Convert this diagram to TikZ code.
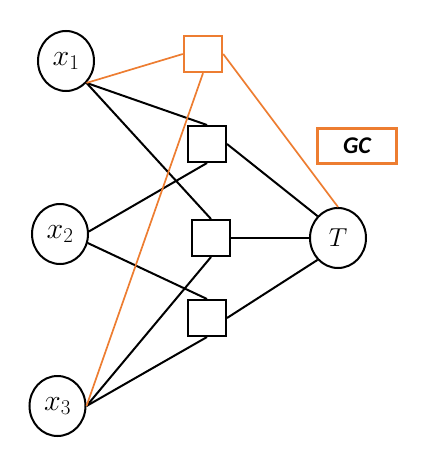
\RequirePackage{fix-cm}
\documentclass[tikz,border=0pt]{standalone}
\usepackage{fontspec}
\newfontfamily\gcfont{Carlito}
\usetikzlibrary{shapes.geometric}
\definecolor{gcorange}{HTML}{ED7D31}
\begin{document}
\begin{tikzpicture}[x=1pt,y=-1pt,
  var/.style={ellipse, draw, line width=2pt, minimum width=56pt, minimum height=60pt, inner sep=0pt, font=\fontsize{30}{34}\selectfont},
  fac/.style={rectangle, draw, line width=2pt, minimum width=38pt, minimum height=36pt, inner sep=0pt},
  gfac/.style={fac, draw=gcorange, line width=2.4pt},
  edge/.style={line width=2pt},
  gedge/.style={draw=gcorange, line width=1.7pt}]
\useasboundingbox (0,0) rectangle (428,458);
\node[var] (x1) at (66,61) {$x_1$};
\node[var] (x2) at (60,234) {$x_2$};
\node[var] (x3) at (57.5,406) {$x_3$};
\node[var, font=\fontsize{26}{30}\selectfont] (t) at (338,238) {$T$};
\node[gfac] (gf) at (203,54) {};
\node[fac] (s1) at (207,144) {};
\node[fac] (s2) at (211,238) {};
\node[fac] (s3) at (207,318) {};
\node[draw=gcorange, line width=2.4pt, minimum width=79pt, minimum height=35pt, inner sep=0pt, font=\gcfont\bfseries\itshape\fontsize{24}{28}\selectfont] (gc) at (357,146) {GC};
\draw[edge] (x1.south east) -- (s1.north);
\draw[edge] (x1.south east) -- (s2.north);
\draw[edge] (x2.5) -- (s1.south);
\draw[edge] (x2.-18) -- (s3.north);
\draw[edge] (x3.east) -- (s2.south);
\draw[edge] (x3.east) -- (s3.south);
\draw[edge] (s1.east) -- (t.north west);
\draw[edge] (s2.east) -- (t.west);
\draw[edge] (s3.east) -- (t.south west);
\draw[gedge] (x1.south east) -- (gf.west);
\draw[gedge] (x3.east) -- (gf.south);
\draw[gedge] (gf.east) -- (t.north);
\end{tikzpicture}
\end{document}
